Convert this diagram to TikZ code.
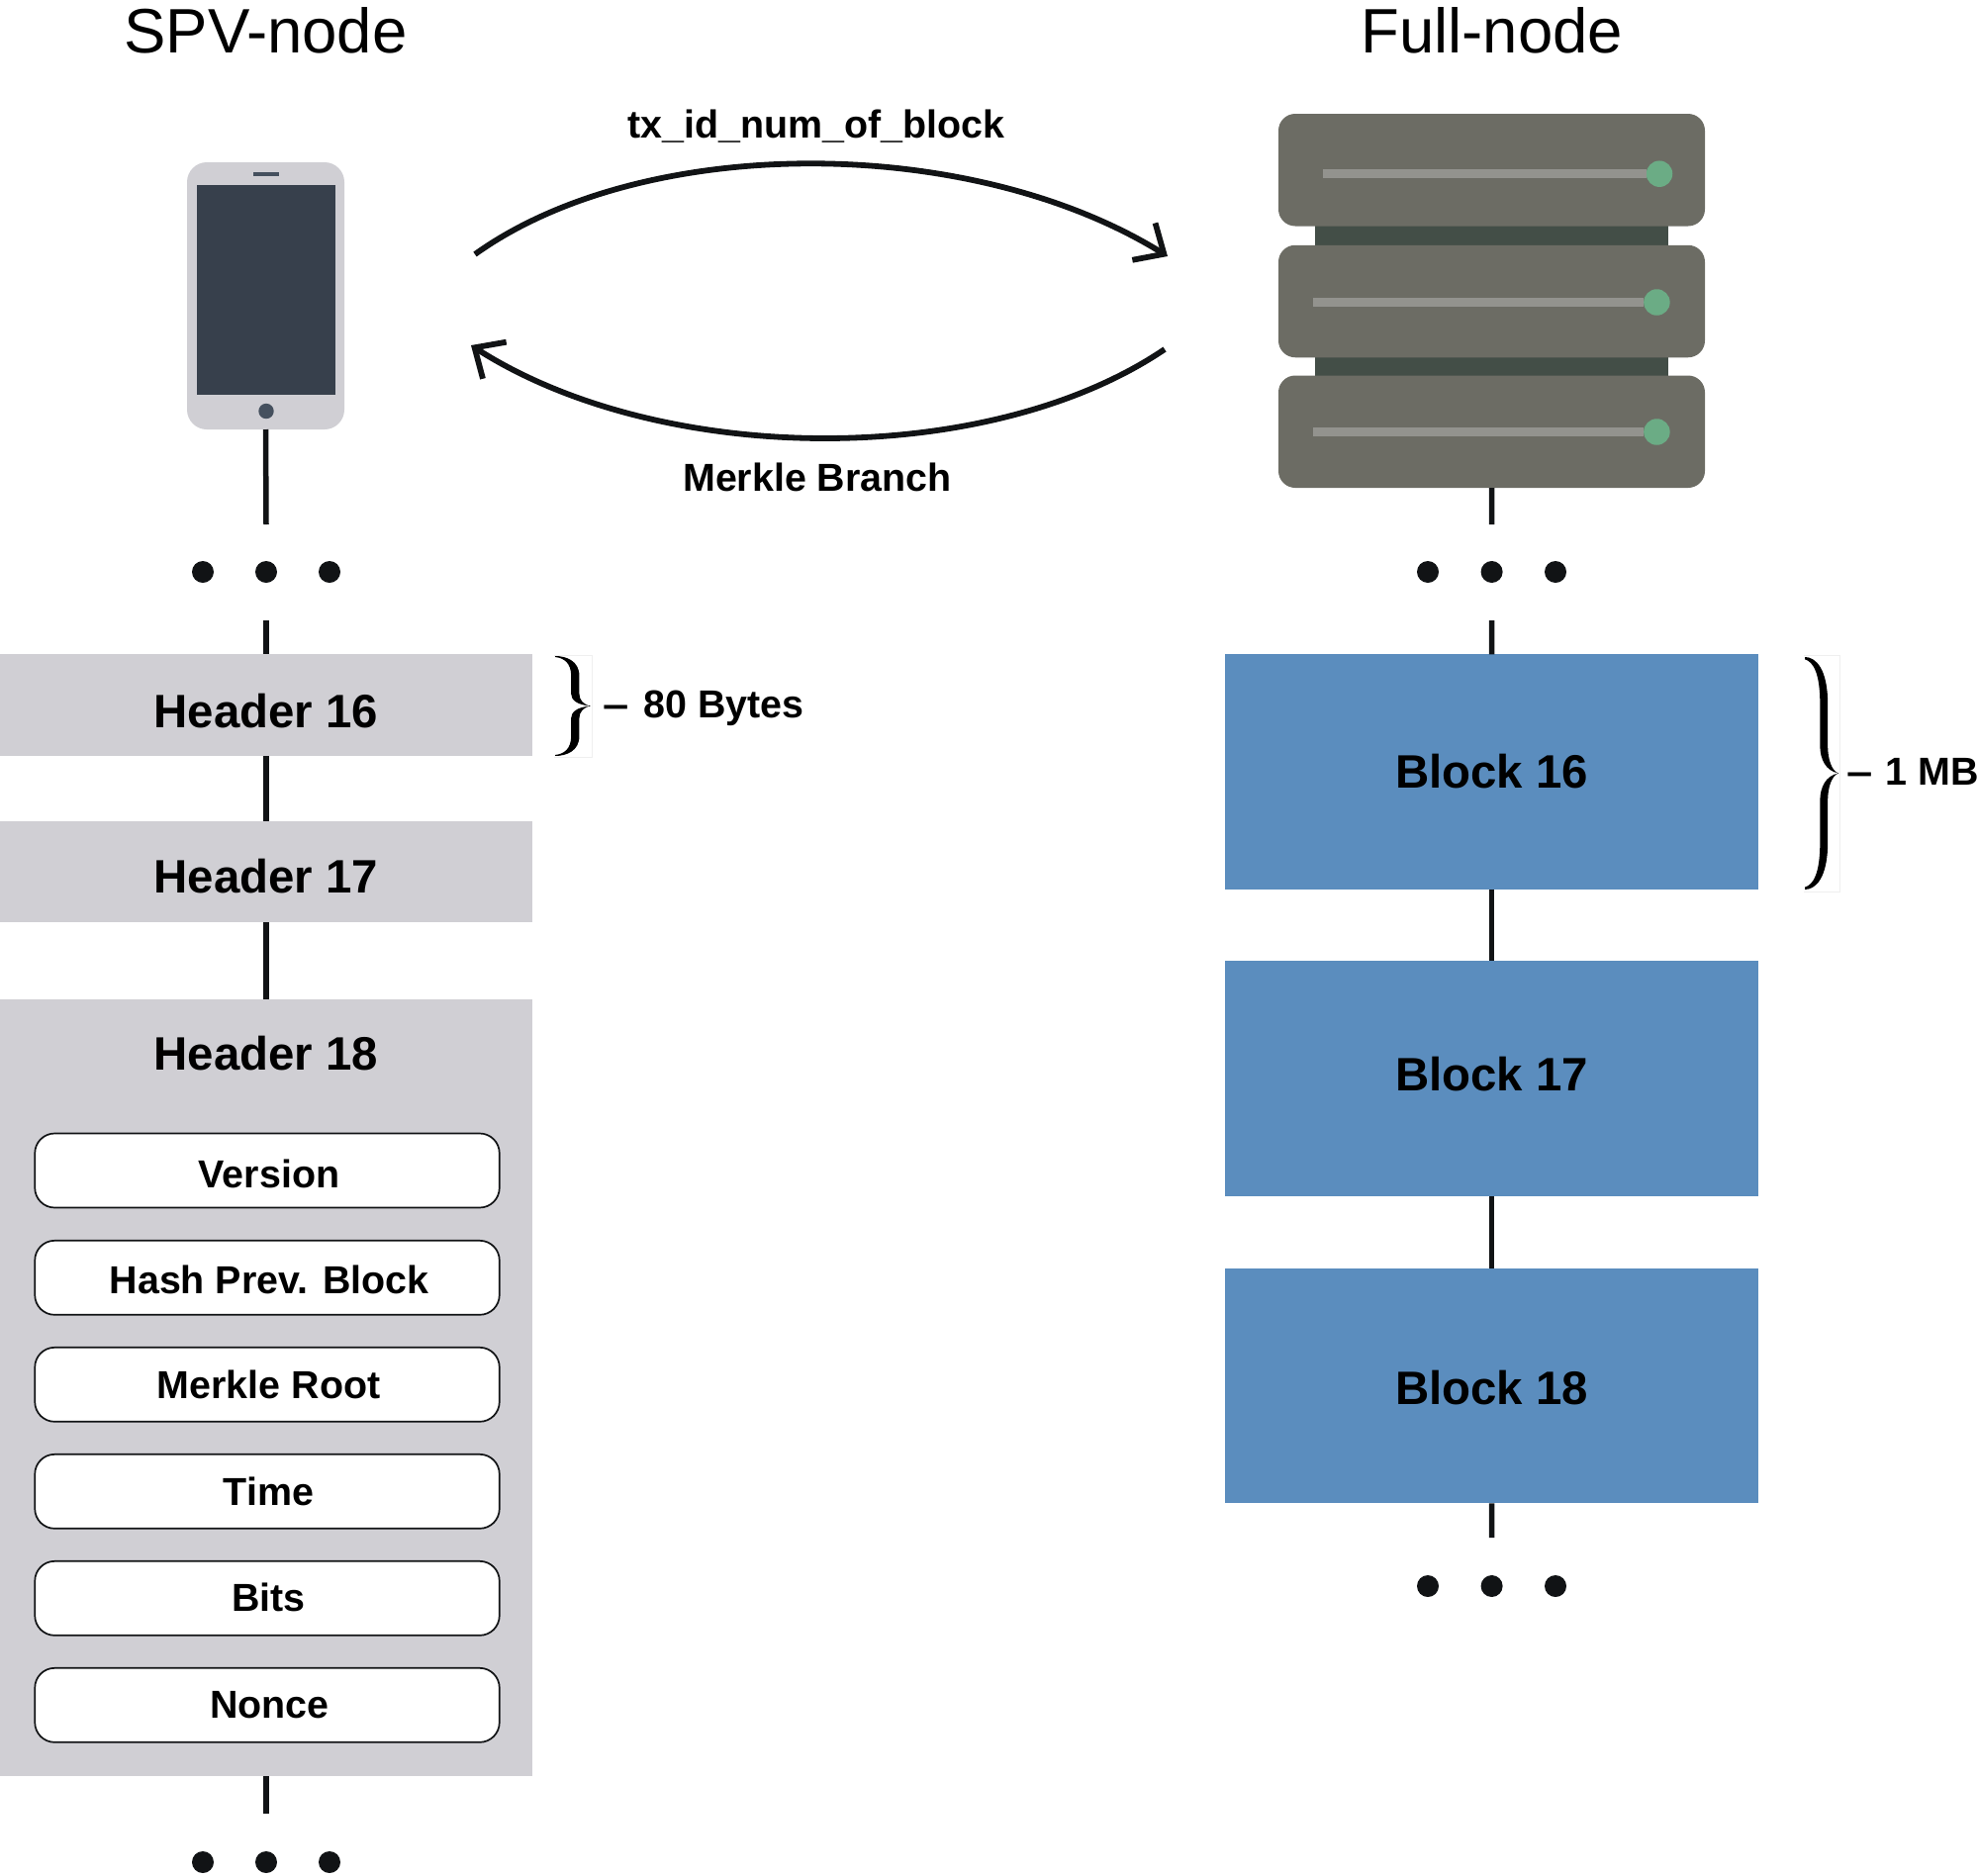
\documentclass[tikz,border=0pt]{standalone}
\usepackage{fontspec}
\setmainfont{Liberation Sans}
\usetikzlibrary{arrows.meta}
\definecolor{inkc}{HTML}{111315}
\definecolor{hdrc}{HTML}{D0CFD4}
\definecolor{blkc}{HTML}{5B8DBE}
\definecolor{scrc}{HTML}{37404C}
\definecolor{btnc}{HTML}{45505E}
\definecolor{srvc}{HTML}{6C6C64}
\definecolor{srvd}{HTML}{434E47}
\definecolor{slitc}{HTML}{93938E}
\definecolor{ledc}{HTML}{6BAC85}
\definecolor{faintc}{HTML}{EFEFEF}
\newcommand{\fsz}[1]{\fontsize{#1pt}{#1pt}\selectfont}
\newcommand{\widedash}{\scalebox{1.2}[1]{–}}
\newcommand{\bracepath}{%
  (0,0) .. controls (0.32,0.0) and (0.68,0.05) .. (0.68,0.2)
  -- (0.68,0.38) .. controls (0.68,0.44) and (0.8,0.49) .. (1,0.5)
  .. controls (0.8,0.51) and (0.68,0.56) .. (0.68,0.62)
  -- (0.68,0.8) .. controls (0.68,0.95) and (0.32,1) .. (0,1)
  -- (0,0.99) .. controls (0.25,0.98) and (0.45,0.93) .. (0.45,0.8)
  -- (0.45,0.62) .. controls (0.45,0.56) and (0.62,0.51) .. (1,0.5)
  .. controls (0.62,0.49) and (0.45,0.44) .. (0.45,0.38)
  -- (0.45,0.2) .. controls (0.45,0.07) and (0.25,0.02) .. (0,0.01) -- cycle}
\tikzset{
  box/.style={inner sep=0pt,outer sep=0pt,rectangle},
  hdrbox/.style={box,fill=hdrc,minimum width=538pt},
  blkbox/.style={box,fill=blkc,minimum width=539.4pt,minimum height=237.5pt,text=black,font=\fsz{47.4}\bfseries},
  rowbox/.style={box,draw=inkc,line width=1.7pt,fill=white,rounded corners=20pt,minimum width=469.5pt,minimum height=75pt},
  srvbox/.style={box,fill=srvc,rounded corners=17pt,minimum width=431pt,minimum height=113.5pt},
  slit/.style={line width=8.5pt,draw=slitc},
  led/.style={circle,inner sep=0pt,outer sep=0pt,fill=ledc,minimum size=26.5pt},
  dotn/.style={circle,inner sep=0pt,outer sep=0pt,fill=inkc,minimum size=22pt},
  conn/.style={draw=inkc,line width=5.5pt},
  flow/.style={draw=inkc,line width=5.8pt,-{Straight Barb[length=24pt,width=44pt,line width=5.8pt]}},
  title/.style={anchor=base,inner sep=0pt,font=\fsz{63.5},text=black},
  htxt/.style={anchor=base,inner sep=0pt,font=\fsz{47.4}\bfseries,text=black},
  rtxt/.style={anchor=base,inner sep=0pt,font=\fsz{39.4}\bfseries,text=black},
  faint/.style={draw=faintc,line width=1pt},
}
\begin{document}
\begin{tikzpicture}[x=1pt,y=-1pt]
\useasboundingbox (0,0) rectangle (1999,1895);
% titles
\node[title] (t1) at (268.5,53) {SPV-node};
\node[title] (t2) at (1507.6,53) {Full-node};
% phone
\node[box,fill=hdrc,rounded corners=20pt,minimum width=159pt,minimum height=270pt] (phone) at (268.5,299) {};
\node[box,fill=scrc,minimum width=140pt,minimum height=211.5pt] (screen) at (268.8,293) {};
\node[box,fill=btnc,minimum width=26pt,minimum height=4.5pt] (speaker) at (269,176) {};
\node[circle,inner sep=0pt,fill=btnc,minimum size=15.4pt] (homeb) at (269,415.5) {};
% server
\node[box,fill=srvd,minimum width=357pt,minimum height=152pt] (rack) at (1507.5,304) {};
\node[srvbox] (s1) at (1507.5,171.75) {};
\node[srvbox] (s2) at (1507.5,304.5) {};
\node[srvbox] (s3) at (1507.5,436.25) {};
\node[led] (l1) at (1677,175.7) {};
\node[led] (l2) at (1674.4,305.5) {};
\node[led] (l3) at (1674.4,436.5) {};
\coordinate (sl1) at (1337,175.7);
\coordinate (sl2) at (1327,305.5);
\coordinate (sl3) at (1327,436.5);
\draw[slit] (sl1) -- (l1);
\draw[slit] (sl2) -- (l2);
\draw[slit] (sl3) -- (l3);
% flows
\coordinate (a1) at (480,257);
\coordinate (a2) at (1180,259);
\coordinate (b1) at (1177,353);
\coordinate (b2) at (476,349);
\draw[flow] (a1) .. controls (650,135) and (980,135) .. (a2);
\draw[flow] (b1) .. controls (1000,473) and (670,473) .. (b2);
\node[rtxt] (lab1) at (825,139) {tx\_id\_num\_of\_block};
\node[rtxt] (lab2) at (826,496) {Merkle Branch};
% headers
\node[hdrbox,minimum height=102.5pt] (h16) at (269,712.7) {};
\node[hdrbox,minimum height=102.5pt] (h17) at (269,881) {};
\node[hdrbox,minimum height=785pt] (h18) at (269,1402.5) {};
\node[htxt] (h16t) at (269,735) {Header 16};
\node[htxt] (h17t) at (269,902.7) {Header 17};
\node[htxt] (h18t) at (269,1081) {Header 18};
% rows
\node[rowbox] (r1) at (270,1183) {};
\node[rowbox] (r2) at (270,1291.3) {};
\node[rowbox] (r3) at (270,1399.3) {};
\node[rowbox] (r4) at (270,1507.3) {};
\node[rowbox] (r5) at (270,1615.3) {};
\node[rowbox] (r6) at (270,1723.3) {};
\node[rtxt] (r1t) at (272,1200.5) {Version};
\node[rtxt] (r2t) at (272,1307.8) {Hash Prev. Block};
\node[rtxt] (r3t) at (271.6,1413.8) {Merkle Root};
\node[rtxt] (r4t) at (271.6,1521.8) {Time};
\node[rtxt] (r5t) at (271.6,1628.8) {Bits};
\node[rtxt] (r6t) at (272.6,1736) {Nonce};
% blocks
\node[blkbox] (b16) at (1507.7,780.2) {\raisebox{2pt}{Block 16}};
\node[blkbox] (b17) at (1507.7,1090) {\raisebox{9pt}{Block 17}};
\node[blkbox] (b18) at (1507.7,1400.5) {\rule{0pt}{39pt}Block 18};
% dots
\node[dotn] (d1a) at (205,578) {};
\node[dotn] (d1b) at (269,578) {};
\node[dotn] (d1c) at (333,578) {};
\node[dotn] (d2a) at (205,1882) {};
\node[dotn] (d2b) at (269,1882) {};
\node[dotn] (d2c) at (333,1882) {};
\node[dotn] (d3a) at (1443,578) {};
\node[dotn] (d3b) at (1507.6,578) {};
\node[dotn] (d3c) at (1572,578) {};
\node[dotn] (d4a) at (1443,1603) {};
\node[dotn] (d4b) at (1507.6,1603) {};
\node[dotn] (d4c) at (1572,1603) {};
% connectors
\coordinate (c1) at (269,530);
\coordinate (c2) at (269,627);
\coordinate (c3) at (269,1833);
\coordinate (c4) at (1507.6,530);
\coordinate (c5) at (1507.6,627);
\coordinate (c6) at (1507.6,1554);
\draw[conn] (phone.south) -- (c1);
\draw[conn] (c2) -- (h16.north);
\draw[conn] (h16.south) -- (h17.north);
\draw[conn] (h17.south) -- (h18.north);
\draw[conn] (h18.south) -- (c3);
\draw[conn] (s3.south) -- (c4);
\draw[conn] (c5) -- (b16.north);
\draw[conn] (b16.south) -- (b17.north);
\draw[conn] (b17.south) -- (b18.north);
\draw[conn] (b18.south) -- (c6);
% braces
\draw[faint] (560,662) -- (598,662) -- (598,765) -- (560,765);
\draw[faint] (1823,662) -- (1859,662) -- (1859,901) -- (1823,901);
\begin{scope}[shift={(561,663)},x=36pt,y=-101pt]
\fill[black] \bracepath;
\end{scope}
\begin{scope}[shift={(1824,664)},x=34pt,y=-235pt]
\fill[black] \bracepath;
\end{scope}
\node[rtxt,anchor=base west] (b80) at (609,725.5) {\widedash\hspace{15pt}80 Bytes};
\node[rtxt,anchor=base west] (b1m) at (1866.5,793.5) {\widedash\hspace{12.5pt}1 MB};
\end{tikzpicture}
\end{document}
